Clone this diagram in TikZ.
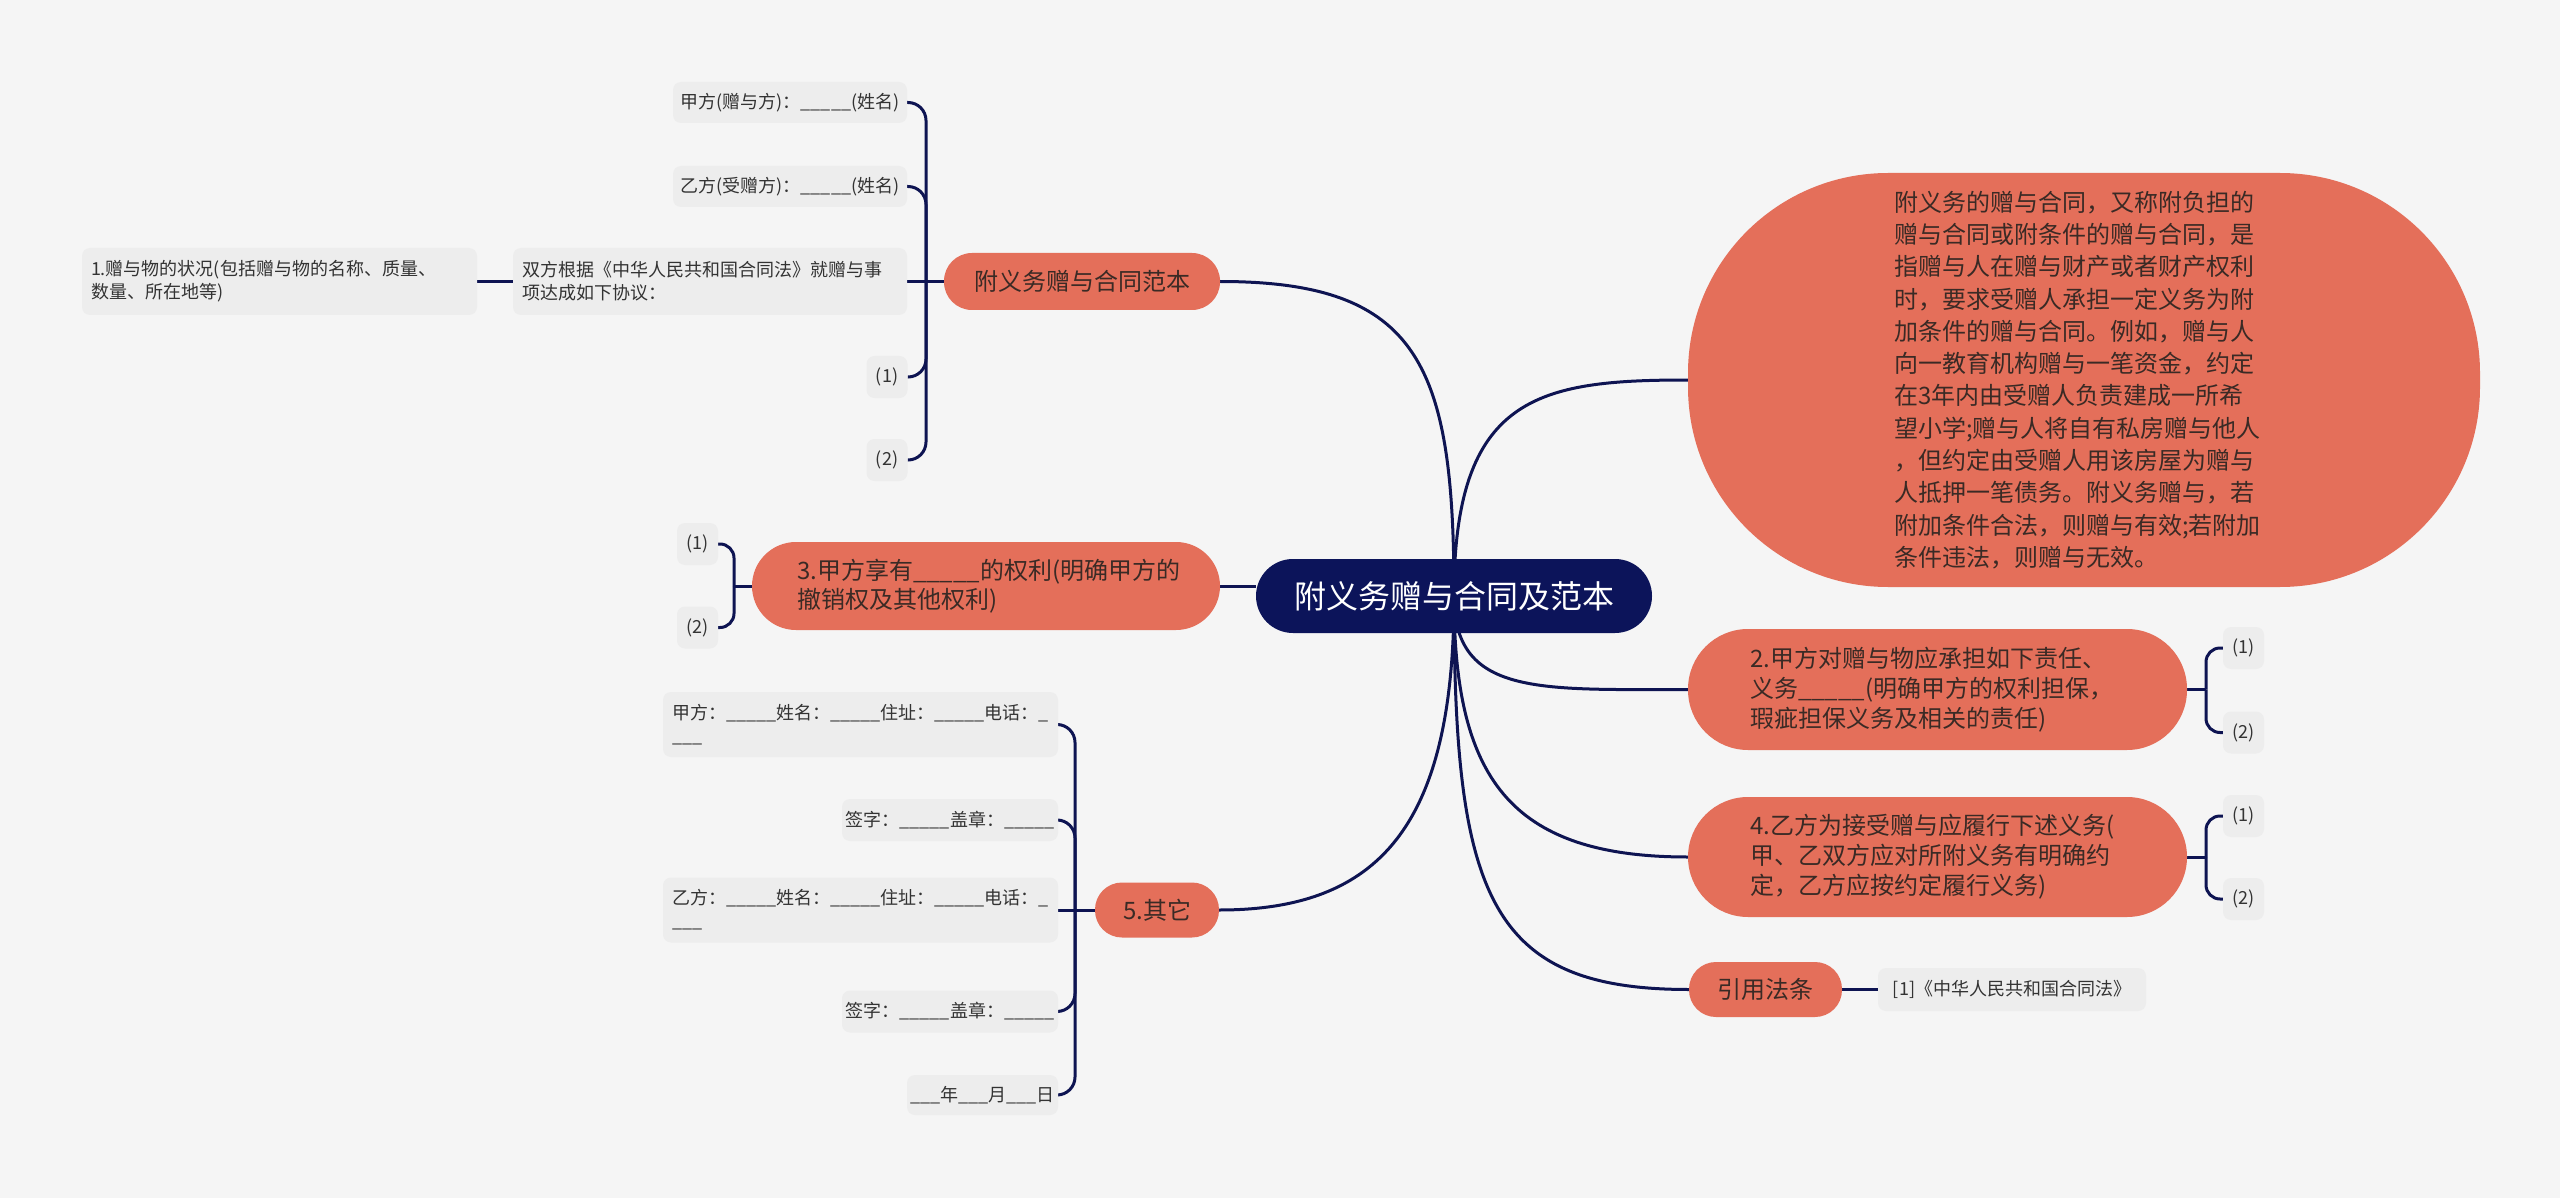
\documentclass[tikz,border=0pt]{standalone}
\usepackage{fontspec}
\setmainfont{Noto Sans CJK SC}
\pgfdeclarelayer{bg}
\pgfsetlayers{bg,main}
\definecolor{bgc}{HTML}{F5F5F5}
\definecolor{navy}{HTML}{0C145A}
\definecolor{linkc}{HTML}{0E1452}
\definecolor{salm}{HTML}{E46F5A}
\definecolor{ltext}{HTML}{3A2A25}
\definecolor{sbox}{HTML}{EDEDED}
\definecolor{stext}{HTML}{333333}
\begin{document}
\begin{tikzpicture}[x=1pt,y=-1pt,
  lvone/.style={rectangle, fill=salm, text=ltext, font=\fontsize{24}{30}\selectfont, inner sep=0pt, align=left},
  smbox/.style={rectangle, fill=sbox, rounded corners=8pt, text=stext, font=\fontsize{18}{23}\selectfont, inner sep=0pt, align=left},
  numbox/.style={smbox, minimum width=41pt, minimum height=42pt, align=center},
  link/.style={draw=linkc, line width=3pt},
  bracket/.style={link, rounded corners=18pt}]
\useasboundingbox (0,0) rectangle (2560,1198);

% root
\node[rectangle, fill=navy, text=white, font=\fontsize{32}{38}\selectfont, minimum width=396pt, minimum height=74pt, rounded corners=37pt, inner sep=0pt] (root) at (1454,596) {附义务赠与合同及范本};

% level one
\node[lvone, minimum width=276pt, minimum height=57pt, rounded corners=28pt, align=center] (n1) at (1082,281.5) {附义务赠与合同范本};
\node[lvone, minimum width=468pt, minimum height=88pt, rounded corners=44pt, text width=378pt, font=\fontsize{24}{29}\selectfont] (n3) at (986,586) {3.甲方享有\_\_\_\_\_的权利(明确甲方的\\撤销权及其他权利)};
\node[lvone, minimum width=124pt, minimum height=55pt, rounded corners=27pt, align=center] (n5) at (1157,910) {5.其它};
\node[lvone, minimum width=792pt, minimum height=414pt, rounded corners=200pt, text width=380pt, font=\fontsize{24}{32.3}\selectfont] (nb) at (2084,380) {附义务的赠与合同，又称附负担的\\赠与合同或附条件的赠与合同，是\\指赠与人在赠与财产或者财产权利\\时，要求受赠人承担一定义务为附\\加条件的赠与合同。例如，赠与人\\向一教育机构赠与一笔资金，约定\\在3年内由受赠人负责建成一所希\\望小学;赠与人将自有私房赠与他人\\，但约定由受赠人用该房屋为赠与\\人抵押一笔债务。附义务赠与，若\\附加条件合法，则赠与有效;若附加\\条件违法，则赠与无效。};
\node[lvone, minimum width=499pt, minimum height=121pt, rounded corners=60pt, text width=375pt] (n2) at (1937.5,689.5) {2.甲方对赠与物应承担如下责任、\\义务\_\_\_\_\_(明确甲方的权利担保，\\瑕疵担保义务及相关的责任)};
\node[lvone, minimum width=499pt, minimum height=120pt, rounded corners=60pt, text width=375pt] (n4) at (1937.5,857) {4.乙方为接受赠与应履行下述义务(\\甲、乙双方应对所附义务有明确约\\定，乙方应按约定履行义务)};
\node[lvone, minimum width=153pt, minimum height=55pt, rounded corners=27pt, align=center] (nr) at (1765.5,989.5) {引用法条};

% group 1
\node[smbox, minimum width=234pt, minimum height=41pt, align=center] (a1) at (790,102.5) {甲方(赠与方)：\_\_\_\_\_(姓名)};
\node[smbox, minimum width=234pt, minimum height=41pt, align=center] (a2) at (790,186.5) {乙方(受赠方)：\_\_\_\_\_(姓名)};
\node[smbox, minimum width=394pt, minimum height=67pt, text width=376pt] (a3) at (710,281.5) {双方根据《中华人民共和国合同法》就赠与事\\项达成如下协议：};
\node[smbox, minimum width=395pt, minimum height=67pt, text width=377pt] (a31) at (279.5,281.5) {1.赠与物的状况(包括赠与物的名称、质量、\\数量、所在地等)};
\node[numbox] (a4) at (887,377) {(1)};
\node[numbox] (a5) at (887,460) {(2)};

% group 3
\node[numbox] (c31) at (697.5,544) {(1)};
\node[numbox] (c32) at (697.5,627.5) {(2)};

% group 5
\node[smbox, minimum width=395pt, minimum height=65pt, text width=377pt] (b1) at (860.5,724.5) {甲方：\_\_\_\_\_姓名：\_\_\_\_\_住址：\_\_\_\_\_电话：\_\\\_\_\_};
\node[smbox, minimum width=216pt, minimum height=42pt, align=center] (b2) at (950,820) {签字：\_\_\_\_\_盖章：\_\_\_\_\_};
\node[smbox, minimum width=395pt, minimum height=65pt, text width=377pt] (b3) at (860.5,910) {乙方：\_\_\_\_\_姓名：\_\_\_\_\_住址：\_\_\_\_\_电话：\_\\\_\_\_};
\node[smbox, minimum width=216pt, minimum height=42pt, align=center] (b4) at (950,1011.5) {签字：\_\_\_\_\_盖章：\_\_\_\_\_};
\node[smbox, minimum width=151pt, minimum height=40pt, align=center] (b5) at (982.5,1095) {\_\_\_年\_\_\_月\_\_\_日};

% group 2 and 4
\node[numbox] (d21) at (2243.5,648) {(1)};
\node[numbox] (d22) at (2243.5,732.5) {(2)};
\node[numbox] (d41) at (2243.5,816) {(1)};
\node[numbox] (d42) at (2243.5,899) {(2)};

% reference
\node[smbox, minimum width=268pt, minimum height=43pt, align=center] (nr1) at (2012,989.5) {[1]《中华人民共和国合同法》};

\begin{pgfonlayer}{bg}
\fill[bgc] (0,0) rectangle (2560,1198);
% main connectors
\draw[link] (root.center) .. controls +(0,-230) and +(200,0) .. (n1.east);
\draw[link] (root.center) .. controls +(0,-200) and +(-150,0) .. (nb.west);
\draw[link] (n3.east) -- (n3.east -| root.west);
\draw[link] (root.center) .. controls +(0,100) and +(-150,0) .. (n2.west);
\draw[link] (root.center) .. controls +(0,180) and +(-180,0) .. (n4.west);
\draw[link] (root.center) .. controls +(0,300) and +(-200,0) .. (nr.west);
\draw[link] (root.center) .. controls +(0,230) and +(160,0) .. (n5.east);
% group 1
\coordinate (s1) at (926,281.5);
\draw[link] (n1.west) -- (a3.east);
\foreach \c in {a1,a2,a4,a5} \draw[bracket] (s1) |- (\c.east);
\draw[link] (a3.west) -- (a31.east);
% group 3
\coordinate (s3) at (734,586);
\draw[link] (n3.west) -- (s3);
\foreach \c in {c31,c32} \draw[link, rounded corners=14pt] (s3) |- (\c.east);
% group 5
\coordinate (s5) at (1075,910);
\draw[link] (n5.west) -- (b3.east);
\foreach \c in {b1,b2,b4,b5} \draw[bracket] (s5) |- (\c.east);
% group 2
\coordinate (s2) at (2206,689.5);
\draw[link] (n2.east) -- (s2);
\foreach \c in {d21,d22} \draw[link, rounded corners=14pt] (s2) |- (\c.west);
% group 4
\coordinate (s4) at (2206,857);
\draw[link] (n4.east) -- (s4);
\foreach \c in {d41,d42} \draw[link, rounded corners=14pt] (s4) |- (\c.west);
% reference
\draw[link] (nr.east) -- (nr1.west);
\end{pgfonlayer}
\end{tikzpicture}
\end{document}
